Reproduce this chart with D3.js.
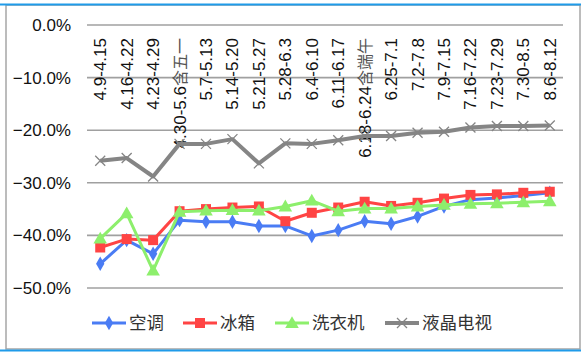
<!DOCTYPE html>
<html><head><meta charset="utf-8">
<script src="https://cdn.jsdelivr.net/npm/d3@7"></script>
<style>body{margin:0;background:#fff}svg{display:block}</style>
</head><body><svg id="c" width="583" height="355"></svg>
<script>
const categories = ["4.9-4.15","4.16-4.22","4.23-4.29","4.30-5.6含五一","5.7-5.13","5.14-5.20","5.21-5.27","5.28-6.3","6.4-6.10","6.11-6.17","6.18-6.24含端午","6.25-7.1","7.2-7.8","7.9-7.15","7.16-7.22","7.23-7.29","7.30-8.5","8.6-8.12"];
const seriesNames = ["空调","冰箱","洗衣机","液晶电视"];
const aircon = [-45.4,-40.9,-43.5,-37.1,-37.4,-37.4,-38.2,-38.2,-40.1,-39.0,-37.3,-37.8,-36.4,-34.5,-33.2,-32.9,-32.4,-31.9];
const fridge = [-42.3,-40.7,-40.9,-35.4,-35.0,-34.7,-34.5,-37.3,-35.7,-34.7,-33.6,-34.4,-33.8,-33.0,-32.3,-32.2,-31.9,-31.7];
const washer = [-40.6,-35.8,-46.7,-35.5,-35.3,-35.2,-35.3,-34.5,-33.4,-35.4,-34.9,-34.9,-34.5,-34.2,-34.0,-33.9,-33.7,-33.5];
const lcdtv  = [-25.8,-25.3,-28.8,-22.6,-22.6,-21.7,-26.3,-22.5,-22.6,-21.9,-21.1,-21.1,-20.5,-20.3,-19.5,-19.2,-19.2,-19.1];
const yTicks = [0,-10,-20,-30,-40,-50];

const svg = d3.select("#c");
const font = "'Liberation Sans', Arial, 'Noto Sans CJK SC', sans-serif";
const colors = ["#4a7cf4","#ff4444","#8def6c","#858585"];
const shapes = ["diamond","square","triangle","x"];
const data = [aircon, fridge, washer, lcdtv];

// frame
svg.append("rect").attr("x",6).attr("y",5).attr("width",574).attr("height",344)
  .attr("fill","#fff").attr("stroke","#a6a6a6").attr("stroke-width",1.5);
svg.append("line").attr("x1",0).attr("x2",581).attr("y1",4.5).attr("y2",4.5).attr("stroke","#1f9be9").attr("stroke-width",2);
svg.append("line").attr("x1",0).attr("x2",581).attr("y1",350.5).attr("y2",350.5).attr("stroke","#1f9be9").attr("stroke-width",2);

const x = d3.scaleBand().domain(categories).range([87,563]);
const y = d3.scaleLinear().domain([-50,0]).range([288,25]);

// gridlines
svg.append("g").selectAll("line").data(yTicks).join("line")
  .attr("x1",87).attr("x2",563).attr("y1",d=>y(d)).attr("y2",d=>y(d))
  .attr("stroke","#a0a0a0").attr("stroke-width",1.6);

// y labels
svg.append("g").selectAll("text").data(yTicks).join("text")
  .attr("x",71).attr("y",d=>y(d)).attr("dy","0.35em").attr("text-anchor","end")
  .attr("font-family",font).attr("font-size",17).attr("fill","#111")
  .text(d=>d3.format(".1f")(d)+"%");

// x labels
const xl = svg.append("g").selectAll("text").data(categories).join("text")
  .attr("transform",d=>`translate(${x(d)+x.bandwidth()/2},38) rotate(-90)`)
  .attr("dy","0.35em").attr("text-anchor","end")
  .attr("font-family",font).attr("font-size",17).attr("fill","#111");
xl.each(function(d){
  const m = d.match(/^([0-9.\-]+)(.*)$/);
  const t = d3.select(this);
  t.append("tspan").text(m[1]);
  if (m[2]) t.append("tspan").attr("fill","#555").attr("font-family","'Noto Sans CJK SC', serif").attr("font-size",16).text(m[2]);
});

function marker(g, shape, color, cx, cy, s){
  if (shape==="x"){
    const r = s*0.5;
    g.append("path").attr("d",`M${cx-r},${cy-r}L${cx+r},${cy+r}M${cx-r},${cy+r}L${cx+r},${cy-r}`)
      .attr("stroke",color).attr("stroke-width",1.3).attr("fill","none");
  } else {
    const sym = shape==="diamond"?d3.symbolDiamond:shape==="square"?d3.symbolSquare:d3.symbolTriangle;
    const size = shape==="diamond"?60:shape==="square"?100:80;
    g.append("path").attr("d",d3.symbol().type(sym).size(size)())
      .attr("transform",`translate(${cx},${cy + (shape==="triangle"?1:0)})`).attr("fill",color);
  }
}

const line = d3.line().x((d,i)=>x(categories[i])+x.bandwidth()/2).y(d=>y(d));
// draw order: aircon, fridge, washer, tv
data.forEach((vals,k)=>{
  const g = svg.append("g");
  g.append("path").datum(vals).attr("d",line).attr("fill","none")
    .attr("stroke",colors[k]).attr("stroke-width",k===3?4:3).attr("stroke-linejoin","round");
  vals.forEach((v,i)=>marker(g, shapes[k], colors[k], x(categories[i])+x.bandwidth()/2, y(v), 10));
});

// legend
const legX = [92,183,275,385];
seriesNames.forEach((n,k)=>{
  const g = svg.append("g");
  g.append("line").attr("x1",legX[k]).attr("x2",legX[k]+34).attr("y1",323).attr("y2",323)
    .attr("stroke",colors[k]).attr("stroke-width",k===3?4:3);
  marker(g, shapes[k], colors[k], legX[k]+17, 323, 10);
  g.append("text").attr("x",legX[k]+37).attr("y",323).attr("dy","0.36em")
    .attr("font-family","'Noto Sans CJK SC', sans-serif").attr("font-size",17.5).attr("fill","#333").text(n);
});
</script></body></html>
